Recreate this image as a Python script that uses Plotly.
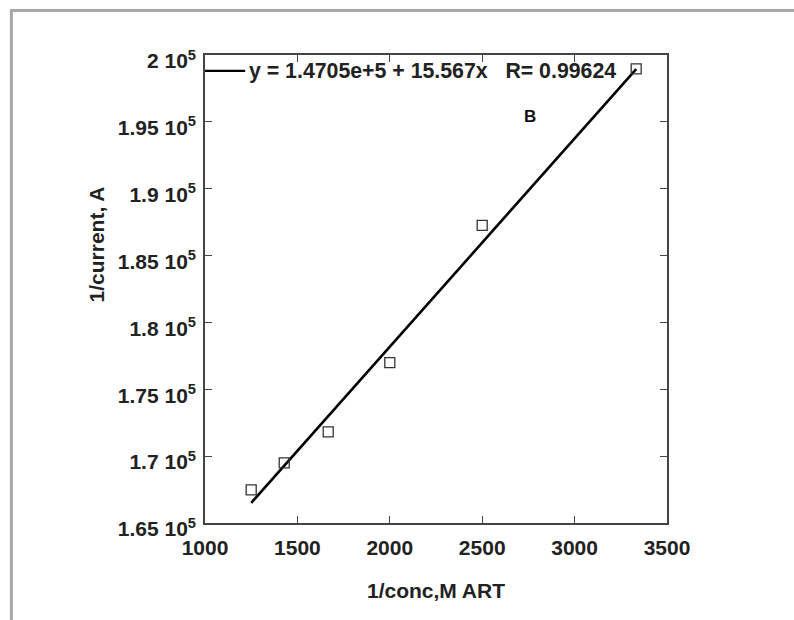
import plotly.graph_objects as go

# Calibration data: reciprocal concentration vs reciprocal current
inv_conc = [1250.0, 1428.6, 1666.7, 2000.0, 2500.0, 3333.3]
inv_current = [167470, 169500, 171820, 177000, 187260, 198960]

# Linear fit reported on the chart
intercept = 1.4705e5
slope = 15.567
r_value = 0.99624

x_ticks = [1000, 1500, 2000, 2500, 3000, 3500]
y_ticks = [165000, 170000, 175000, 180000, 185000, 190000, 195000, 200000]
y_tick_text = ["1.65 10<sup>5</sup>", "1.7 10<sup>5</sup>", "1.75 10<sup>5</sup>",
               "1.8 10<sup>5</sup>", "1.85 10<sup>5</sup>", "1.9 10<sup>5</sup>",
               "1.95 10<sup>5</sup>", "2 10<sup>5</sup>"]

fit_x = [min(inv_conc), max(inv_conc)]
fit_y = [intercept + slope * v for v in fit_x]

FONT = "Liberation Sans, Arial, sans-serif"
TEXT_COLOR = "#222222"
AXIS_COLOR = "#444444"
FS = 21

fig = go.Figure()

fig.add_trace(go.Scatter(
    x=fit_x, y=fit_y, mode="lines",
    line=dict(color="black", width=2.6),
    showlegend=False,
))

fig.add_trace(go.Scatter(
    x=inv_conc, y=inv_current, mode="markers",
    marker=dict(symbol="square-open", size=10, color="#333333",
                line=dict(width=1.3, color="#333333")),
    showlegend=False,
))

# Fit key in the upper-left corner: short line sample followed by the equation
key_y = 0.966
fig.add_shape(type="line", xref="paper", yref="paper", x0=0.0, x1=0.087, y0=key_y, y1=key_y,
              line=dict(color="black", width=2.4))
fig.add_annotation(x=0.09, y=key_y, xref="paper", yref="paper", xanchor="left", yanchor="middle",
                   text=f"y = 1.4705e+5 + 15.567x\u00a0\u00a0\u00a0R= {r_value}", showarrow=False,
                   font=dict(family=FONT, size=21.3, color=TEXT_COLOR, weight="bold"))

fig.add_annotation(x=2760, y=195400, xref="x", yref="y", text="B",
                   showarrow=False, font=dict(family=FONT, size=17, color="#111111", weight="bold"))

# Y axis title, set slightly above the middle of the axis
fig.add_annotation(x=-0.234, y=0.595, xref="paper", yref="paper", xanchor="center", yanchor="middle",
                   text="1/current, A", textangle=-90, showarrow=False,
                   font=dict(family=FONT, size=FS, color=TEXT_COLOR, weight="bold"))

# Page frame (grey border along top and left)
fig.add_shape(type="line", xref="paper", yref="paper", x0=-0.419, x1=-0.419, y0=-0.3, y1=1.095,
              line=dict(color="#a8a8a8", width=3))
fig.add_shape(type="line", xref="paper", yref="paper", x0=-0.4222, x1=1.4, y0=1.095, y1=1.095,
              line=dict(color="#a8a8a8", width=3))

axis_common = dict(
    showline=True, linecolor=AXIS_COLOR, linewidth=1.6, mirror="ticks",
    ticks="inside", ticklen=7, tickwidth=1.4, tickcolor=AXIS_COLOR,
    showgrid=False, zeroline=False,
    tickfont=dict(family=FONT, size=FS, color=TEXT_COLOR, weight="bold"),
)

fig.update_xaxes(
    range=[1000, 3500], tickvals=x_ticks, ticklabelstandoff=5,
    title=dict(text="1/conc,M ART", standoff=25,
               font=dict(family=FONT, size=FS, color=TEXT_COLOR, weight="bold")),
    **axis_common,
)
fig.update_yaxes(
    range=[165000, 200000], tickvals=y_ticks, ticktext=y_tick_text,
    ticklabelstandoff=3, ticklabelshift=6,
    **axis_common,
)

fig.update_layout(
    width=794, height=620,
    margin=dict(l=205, r=127, t=55, b=97, autoexpand=False),
    paper_bgcolor="white", plot_bgcolor="white",
    font=dict(family=FONT, color=TEXT_COLOR),
    showlegend=False,
)

fig.write_html("out.html")
